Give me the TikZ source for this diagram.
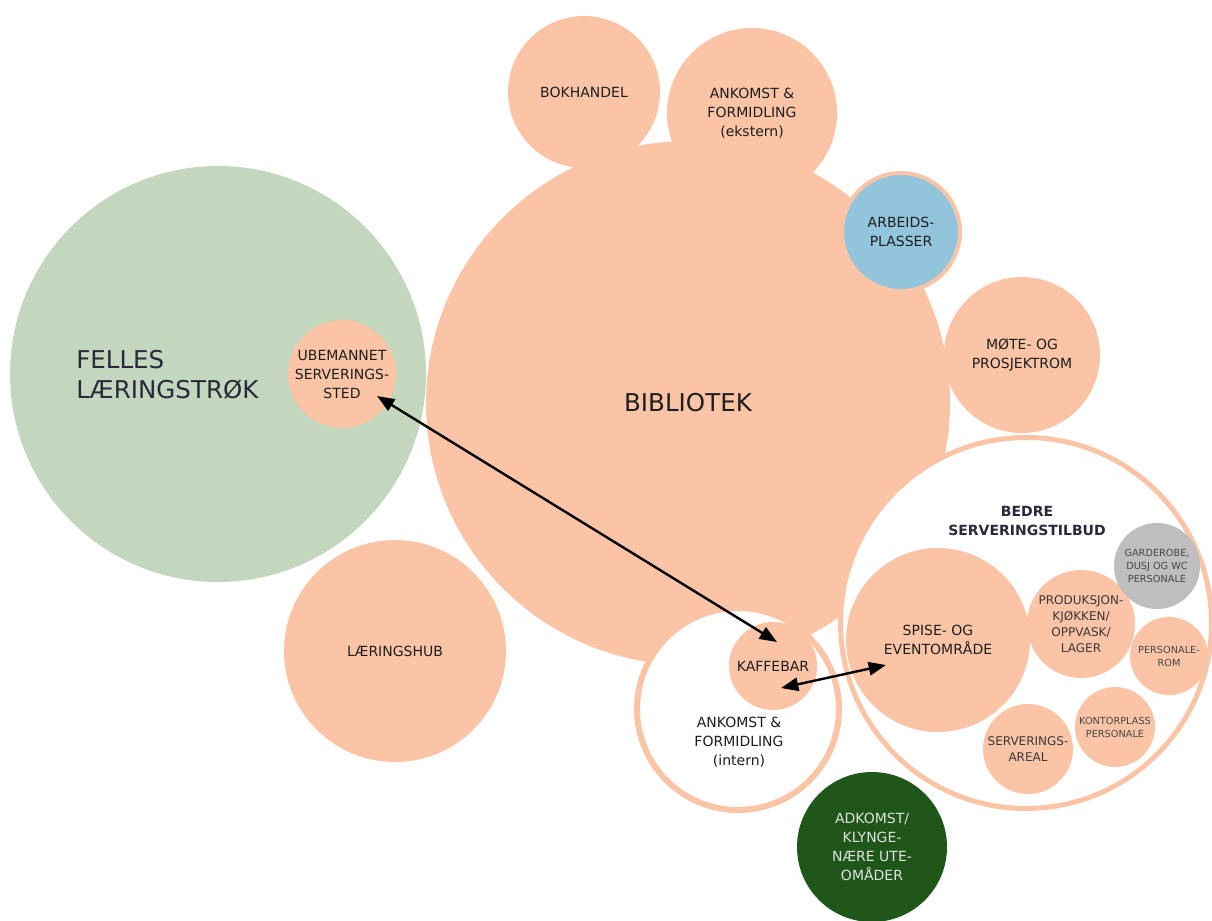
\documentclass[tikz,border=0pt]{standalone}
\usepackage{fontspec}
\setmainfont{DejaVu Sans}
\usetikzlibrary{arrows.meta}

\definecolor{peach}{RGB}{252,196,166}
\definecolor{fellesgreen}{RGB}{195,214,190}
\definecolor{deskblue}{RGB}{146,196,220}
\definecolor{staffgrey}{RGB}{190,190,190}
\definecolor{outdoorgreen}{RGB}{31,86,25}
\definecolor{labeltext}{RGB}{30,30,30}
\definecolor{titletext}{RGB}{40,42,58}

\tikzset{
  zone/.style={circle, inner sep=0pt, minimum size=#1*1.5pt, align=center, text=labeltext},
  ring/.style={zone=#1, draw=peach, fill=white},
  txt/.style={font=\fontsize{10.5}{14.25}\selectfont},
  midtxt/.style={font=\fontsize{9}{12}\selectfont, text=black!78},
  smalltxt/.style={font=\fontsize{7.3}{9.75}\selectfont, text=black!72},
  bigtxt/.style={font=\fontsize{18.4}{22.5}\selectfont},
  link/.style={{Triangle[length=13pt,width=10pt]}-{Triangle[length=13pt,width=10pt]}, line width=1.8pt},
}

\begin{document}
\begin{tikzpicture}[x=0.75pt, y=-0.75pt]
  \useasboundingbox (0,0) rectangle (1212,920);

  % large areas
  \node[zone=262, fill=peach, bigtxt] (bibliotek) at (688,403) {BIBLIOTEK};
  \node[zone=208, fill=fellesgreen] (felles) at (218,374) {};
  \node[bigtxt, text=titletext, align=left, anchor=west, inner sep=0pt] (fellestxt) at (76,375) {FELLES\\LÆRINGSTRØK};

  % peach rooms
  \foreach \name/\x/\y/\r/\lbl in {
      bokhandel/584/92/76/BOKHANDEL,
      ekstern/752/113/85/{ANKOMST \&\\FORMIDLING\\(ekstern)},
      mote/1022/355/78/{MØTE- OG\\PROSJEKTROM},
      ubemannet/342/374/54/{UBEMANNET\\SERVERINGS-\\STED},
      laeringshub/395/651/111/LÆRINGSHUB} {
    \node[zone=\r, fill=peach, txt] (\name) at (\x,\y) {\lbl};
  }
  \node[zone=59, fill=deskblue, draw=peach, line width=3pt, txt] (arbeid) at (901,232) {ARBEIDS-\\PLASSER};

  % serving cluster
  \node[ring=185.5, line width=3.75pt] (bedre) at (1026,623) {};
  \node[txt, font=\fontsize{10.5}{14.25}\selectfont\bfseries, text=titletext, align=center] (bedretxt) at (1027,521) {BEDRE\\SERVERINGSTILBUD};
  \node[zone=92, fill=peach, txt] (spise) at (938,640) {SPISE- OG\\EVENTOMRÅDE};
  \node[zone=54, fill=peach, midtxt] (produksjon) at (1081,624) {PRODUKSJON-\\KJØKKEN/\\OPPVASK/\\LAGER};
  \node[zone=45, fill=peach, midtxt] (serveringsareal) at (1028,749) {SERVERINGS-\\AREAL};
  \node[zone=43, fill=staffgrey, smalltxt] (garderobe) at (1157,566) {GARDEROBE,\\DUSJ OG WC\\PERSONALE};
  \node[zone=39, fill=peach, smalltxt] (personalerom) at (1169,656) {PERSONALE-\\ROM};
  \node[zone=40, fill=peach, smalltxt] (kontor) at (1115,727) {KONTORPLASS\\PERSONALE};

  % arrival inside
  \node[ring=101, line width=4.5pt] (intern) at (738,709) {};
  \node[txt, align=center, text=labeltext] (interntxt) at (739,742) {ANKOMST \&\\FORMIDLING\\(intern)};
  \node[zone=44, fill=peach, txt] (kaffebar) at (773,666) {KAFFEBAR};

  % outdoor
  \node[zone=75, fill=outdoorgreen, txt, text=white!88!black] (adkomst) at (872,847) {ADKOMST/\\KLYNGE-\\NÆRE UTE-\\OMÅDER};

  % connections
  \coordinate (ubeEnd) at ([shift={(35,22)}]ubemannet.center);
  \coordinate (kafTop) at ([shift={(4,-24)}]kaffebar.center);
  \coordinate (kafLow) at ([shift={(8,22)}]kaffebar.center);
  \coordinate (spiseEnd) at ([shift={(-52,25)}]spise.center);
  \draw[link] (ubeEnd) -- (kafTop);
  \draw[link] (kafLow) -- (spiseEnd);
\end{tikzpicture}
\end{document}
